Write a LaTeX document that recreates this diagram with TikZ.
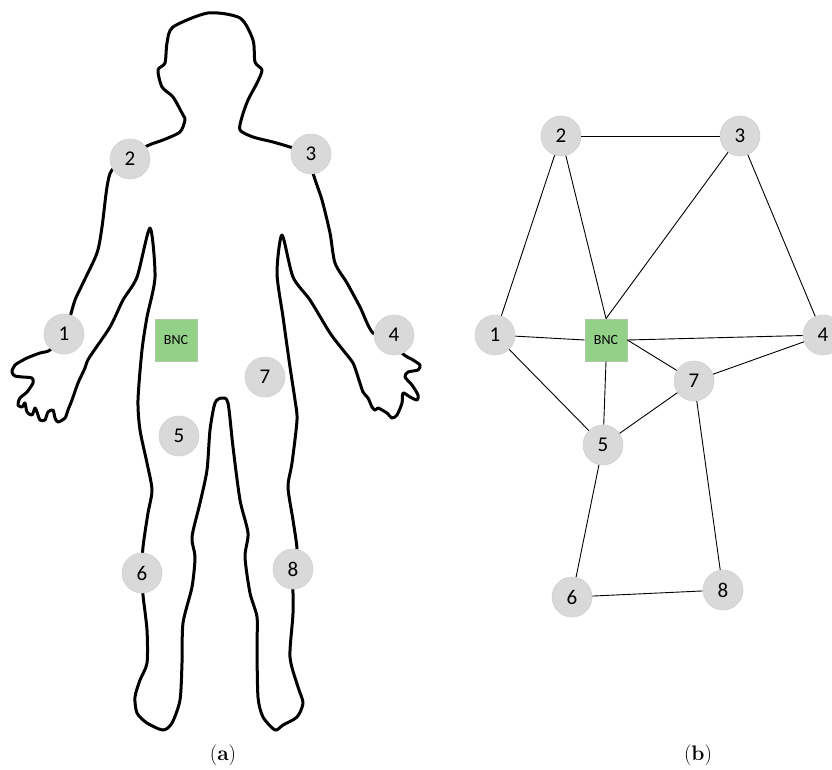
\documentclass[tikz,border=0pt]{standalone}
\usepackage{fontspec}
\newfontfamily\calibri{Carlito}
\usepackage{tikz}
\usetikzlibrary{calc}
\definecolor{bncgreen}{RGB}{147,208,136}
\definecolor{bncedge}{RGB}{175,200,170}
\tikzset{
  sensor/.style={circle, fill=gray!30, draw=gray!36, line width=0.6pt, minimum size=40pt, inner sep=0pt, font=\calibri\fontsize{21}{21}\selectfont},
  hub/.style={rectangle, fill=bncgreen, draw=bncedge, line width=0.8pt, minimum size=42pt, inner sep=0pt, font=\calibri\fontsize{14}{14}\selectfont},
  link/.style={line width=0.9pt},
  outline/.style={line width=3pt, line join=round},
  caption/.style={font=\fontsize{21}{21}\selectfont}
}
\begin{document}
\begin{tikzpicture}[x=1pt,y=-1pt]
  \useasboundingbox (0,0) rectangle (832,769);
  % body outline
  \draw[outline] plot[smooth cycle, tension=0.45] coordinates {
    (208,13) (240,18) (253,40) (255,62) (262,70) (257,83) (248,100) (242,117) (240,130)
    (253,137) (273,142) (290,147) (311,154) (313,173) (322,200) (330,233) (335,263)
    (347,283) (360,307) (373,333) (393,335) (402,353) (413,360) (420,365) (418,370)
    (408,372) (405,377) (412,385) (418,395) (417,400) (410,397) (403,393) (402,403)
    (397,415) (392,418) (387,413) (382,410) (378,408) (375,410) (372,407) (368,398)
    (363,392) (358,377) (353,363) (343,350) (330,333) (310,300) (293,277) (282,235)
    (277,273) (283,317) (290,367) (295,400) (297,420) (292,463) (288,487) (293,520)
    (297,550) (293,569) (293,613) (290,657) (298,687) (303,703) (297,717) (283,725)
    (275,730) (263,717) (258,697) (257,647) (257,617) (250,593) (245,557) (248,533)
    (240,500) (233,447) (228,403) (222,398) (215,403) (210,430) (207,470) (200,503)
    (192,537) (195,557) (192,587) (183,623) (182,663) (180,700) (172,723) (163,730)
    (147,723) (137,713) (135,697) (140,680) (147,663) (147,630) (143,595) (142,573)
    (143,547) (148,513) (152,490) (147,463) (140,430) (138,400) (142,350) (147,317)
    (155,277) (150,228) (137,277) (123,300) (110,327) (89,358) (85,368) (78,383)
    (72,400) (68,410) (65,418) (58,422) (55,418) (53,410) (48,412) (45,420) (40,420)
    (37,412) (35,408) (32,415) (27,412) (25,403) (22,407) (18,405) (20,398) (27,392)
    (33,383) (32,378) (23,377) (15,376) (12,372) (15,365) (27,358) (40,353) (50,350)
    (64,334) (70,317) (75,300) (83,283) (97,253) (102,227) (107,187) (112,170)
    (130,159) (147,146) (163,140) (180,132) (185,120) (183,115) (173,97) (162,87)
    (158,70) (165,63) (167,43) (173,27)};
  % sensors on the body
  \foreach \n/\x/\y in {1/64/334, 2/130/159, 3/311/154, 4/394/335, 5/179/436, 6/142/573, 7/265/377, 8/293/569}
    \node[sensor] (a\n) at (\x,\y) {\n};
  \node[hub] (aBNC) at (176,340) {BNC};
  \node[caption] (capa) at (223,755) {(\textbf{a})};
  % network graph
  \foreach \n/\x/\y in {1/495/335, 2/561/136, 3/740/136, 4/823/335, 5/603/445, 6/572/597, 7/694/381, 8/723/590}
    \node[sensor] (b\n) at (\x,\y) {\n};
  \node[hub] (bBNC) at (606,340) {BNC};
  \foreach \u/\v in {b2/b3, b2/b1, b3/b4, b1/b5, b4/b7, b7/b5, b7/b8, b5/b6, b6/b8}
    \draw[link] (\u) -- (\v);
  \draw[link] (b2) -- (bBNC.north);
  \draw[link] (b3) -- (bBNC.north);
  \draw[link] (b1) -- (bBNC.west);
  \draw[link] (bBNC.east) -- (b4);
  \draw[link] (bBNC.east) -- (b7);
  \draw[link] (bBNC.south) -- (b5);
  \node[caption] (capb) at (698,755) {(\textbf{b})};
\end{tikzpicture}
\end{document}
